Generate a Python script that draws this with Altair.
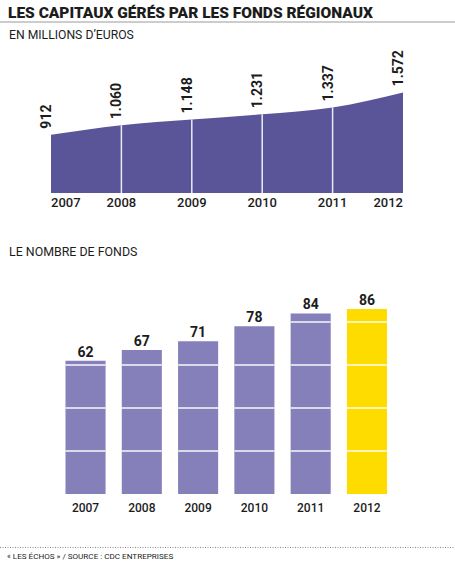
import altair as alt
import pandas as pd

# --- data -------------------------------------------------------------
years = [2007, 2008, 2009, 2010, 2011, 2012]
year_labels = ["2007", "2008", "2009", "2010", "2011", "2012"]
capitaux = [912, 1060, 1148, 1231, 1337, 1572]          # millions d'euros
capitaux_labels = ["912", "1.060", "1.148", "1.231", "1.337", "1.572"]
fonds = [62, 67, 71, 78, 84, 86]                         # nombre de fonds
fonds_step = 20                                          # white separators every 20 funds

TITLE = "LES CAPITAUX GÉRÉS PAR LES FONDS RÉGIONAUX"
SUB_TOP = "EN MILLIONS D’EUROS"
SUB_BOTTOM = "LE NOMBRE DE FONDS"
SOURCE = "« LES ÉCHOS » / SOURCE : CDC ENTREPRISES"

# --- style ------------------------------------------------------------
FONT = "Roboto"
INK = "#1c1c1c"
AREA = "#5A5499"
BAR = "#8680BA"
HIGHLIGHT = "#FFDC00"

W, H = 455, 561

top_df = pd.DataFrame({"annee": years, "annee_txt": year_labels,
                       "capitaux": capitaux, "label": capitaux_labels})
bot_df = pd.DataFrame({"annee": year_labels, "fonds": fonds})
sep_df = pd.DataFrame(
    [{"annee": a, "seuil": s}
     for a, v in zip(year_labels, fonds)
     for s in range(fonds_step, v, fonds_step)]
)

# --- top panel: area of managed capital --------------------------------
xs_top = alt.Scale(domain=[years[0], years[-1]], range=[51, 403], nice=False, zero=False)
ys_top = alt.Scale(domain=[0, 2000], range=[193, 65], nice=False)
X_top = alt.X("annee:Q", scale=xs_top, axis=None)

area = alt.Chart(top_df).mark_area(color=AREA, interpolate="monotone").encode(
    x=X_top, y=alt.Y("capitaux:Q", scale=ys_top, axis=None)
)

separators = alt.Chart(top_df).transform_filter(
    f"datum.annee > {years[0]} && datum.annee < {years[-1]}"
).mark_rule(color="#ECEBF5", strokeWidth=1.5).encode(
    x=X_top,
    y=alt.Y("zero:Q", scale=ys_top, axis=None),
    y2="capitaux:Q",
).transform_calculate(zero="0")

value_labels = alt.Chart(top_df).mark_text(
    angle=270, align="left", baseline="alphabetic", dx=6,
    font=FONT, fontSize=14, fontWeight="bold", color=INK
).encode(
    x=X_top, y=alt.Y("capitaux:Q", scale=ys_top, axis=None), text="label:N"
)


def top_year(filter_expr, align):
    return alt.Chart(top_df).transform_filter(filter_expr).mark_text(
        align=align, baseline="alphabetic", dy=14,
        font=FONT, fontSize=13, fontWeight=500, color=INK
    ).encode(x=X_top, y=alt.datum(0, scale=ys_top), text="annee_txt:N")


top_years = [
    top_year(f"datum.annee == {years[0]}", "left"),
    top_year(f"datum.annee > {years[0]} && datum.annee < {years[-1]}", "center"),
    top_year(f"datum.annee == {years[-1]}", "right"),
]

top = alt.layer(area, separators, value_labels, *top_years)

# --- bottom panel: number of funds --------------------------------------
xs_bot = alt.Scale(domain=year_labels, range=[65.5, 387], paddingInner=0.288, paddingOuter=0)
ys_bot = alt.Scale(domain=[0, 100], range=[494, 279], nice=False)
X_bot = alt.X("annee:N", scale=xs_bot, axis=None)

bars = alt.Chart(bot_df).mark_bar().encode(
    x=X_bot,
    y=alt.Y("fonds:Q", scale=ys_bot, axis=None),
    color=alt.condition(f"datum.annee == '{year_labels[-1]}'",
                        alt.value(HIGHLIGHT), alt.value(BAR)),
)

bar_seps = alt.Chart(sep_df).mark_tick(color="white", thickness=2, size=40).encode(
    x=X_bot, y=alt.Y("seuil:Q", scale=ys_bot, axis=None)
)

bar_labels = alt.Chart(bot_df).mark_text(
    baseline="alphabetic", dy=-4, font=FONT, fontSize=14,
    fontWeight="bold", color=INK
).encode(x=X_bot, y=alt.Y("fonds:Q", scale=ys_bot, axis=None), text="fonds:Q")

bar_years = alt.Chart(bot_df).mark_text(
    baseline="alphabetic", dy=18, font=FONT, fontSize=12,
    fontWeight=500, color=INK
).encode(x=X_bot, y=alt.datum(0, scale=ys_bot), text="annee:N")

bottom = alt.layer(bars, bar_seps, bar_labels, bar_years)


# --- titles, rules and source -------------------------------------------
def caption(text, x, y, size, weight="normal"):
    return alt.Chart(pd.DataFrame({"t": [text]})).mark_text(
        align="left", baseline="alphabetic", font=FONT, fontSize=size,
        fontWeight=weight, color=INK
    ).encode(x=alt.value(x), y=alt.value(y), text="t:N")


title_rule = alt.Chart(pd.DataFrame({"r": [0]})).mark_rule(
    color="#9a9a9a", strokeWidth=1
).encode(x=alt.value(0), x2=alt.value(W), y=alt.value(22))

source_rule = alt.Chart(pd.DataFrame({"r": [0]})).mark_rule(
    color="#8a8a8a", strokeWidth=1, strokeDash=[1, 1.5]
).encode(x=alt.value(0), x2=alt.value(W), y=alt.value(547.5))

decor = alt.layer(
    caption(TITLE, 8, 17.5, 15.5, 900),
    title_rule,
    caption(SUB_TOP, 9, 39.3, 12.2),
    caption(SUB_BOTTOM, 9, 256, 12.4),
    source_rule,
    caption(SOURCE, 7, 558.5, 8.1),
)

chart = alt.layer(top, bottom, decor).resolve_scale(
    x="independent", y="independent"
).properties(
    width=W, height=H, padding=0,
    autosize=alt.AutoSizeParams(type="none"),
    background="white",
).configure_view(stroke=None)

chart.save("out.html", embed_options={"renderer": "svg", "actions": False})
